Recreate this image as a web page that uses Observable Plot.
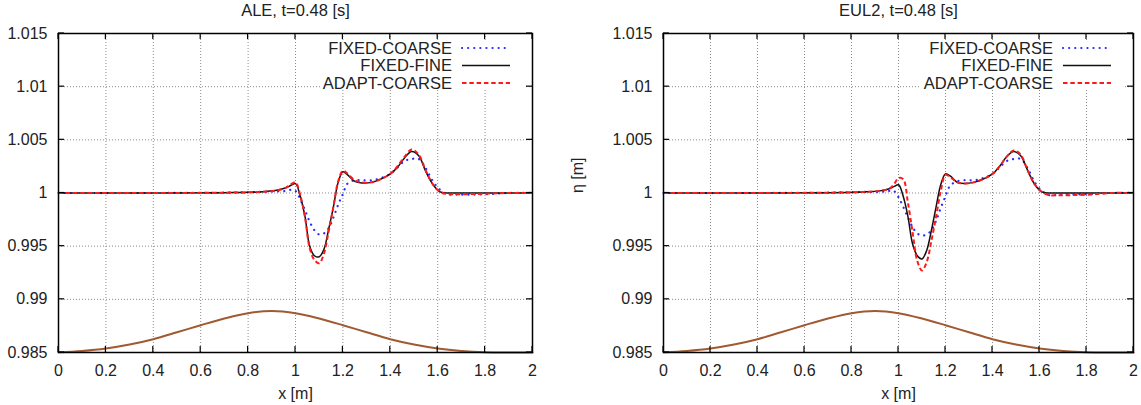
<!DOCTYPE html>
<html>
<head>
<meta charset="utf-8">
<script src="https://cdn.jsdelivr.net/npm/d3@7"></script>
<script src="https://cdn.jsdelivr.net/npm/@observablehq/plot@0.6"></script>
<style>
  body { margin: 0; background: #fff; }
  #row { display: flex; width: 1141px; height: 405px; overflow: hidden; }
  #row svg { flex: none; }
</style>
</head>
<body>
<div id="row"></div>
<script>
// Axis ticks and labels
const xTicks = [0, 0.2, 0.4, 0.6, 0.8, 1, 1.2, 1.4, 1.6, 1.8, 2];
const xTickLabels = ["0", "0.2", "0.4", "0.6", "0.8", "1", "1.2", "1.4", "1.6", "1.8", "2"];
const yTicks = [0.985, 0.99, 0.995, 1, 1.005, 1.01, 1.015];
const yTickLabels = ["0.985", "0.99", "0.995", "1", "1.005", "1.01", "1.015"];

const seriesNames = ["FIXED-COARSE", "FIXED-FINE", "ADAPT-COARSE"];
const panelTitles = ["ALE, t=0.48 [s]", "EUL2, t=0.48 [s]"];

// Bottom topography (bump)
const bedX = [0, 0.1, 0.2, 0.3, 0.4, 0.5, 0.6, 0.7, 0.8, 0.9, 1.0, 1.1, 1.2, 1.3, 1.4, 1.5, 1.6, 1.7, 1.8, 1.9, 2.0];
const bedY = [0.98502, 0.98515, 0.98538, 0.98575, 0.98625, 0.98690, 0.98757, 0.98820, 0.98870, 0.98890, 0.98870,
              0.98820, 0.98757, 0.98690, 0.98625, 0.98575, 0.98538, 0.98515, 0.98503, 0.98500, 0.98500];

// Sample positions shared by the free-surface series
const surfX = [0, 0.4, 0.7, 0.85, 0.92, 0.96, 0.98, 1.0, 1.02, 1.04, 1.06, 1.08, 1.10, 1.12, 1.14, 1.16, 1.18,
               1.20, 1.22, 1.25, 1.28, 1.32, 1.36, 1.40, 1.43, 1.46, 1.49, 1.52, 1.55, 1.58, 1.61, 1.64,
               1.68, 1.74, 1.82, 1.9, 2.0];

// ALE free surface
const aleFixedCoarse = [1, 1, 1.00003, 1.0001, 1.00015, 1.0002, 1.0003, 1.0002, 0.9994, 0.9984, 0.9973, 0.9965,
                        0.9961, 0.9962, 0.9967, 0.9977, 0.9989, 0.9999, 1.0009, 1.0012, 1.0012, 1.0012, 1.0014,
                        1.0018, 1.0024, 1.0030, 1.0032, 1.0032, 1.0023, 1.0011, 1.0003, 0.9999, 0.99985,
                        0.99985, 0.9999, 1, 1];
const aleFixedFine   = [1, 1, 1.00003, 1.0001, 1.00025, 1.0005, 1.0007, 1.00088, 0.9997, 0.9978, 0.9950, 0.9941,
                        0.9940, 0.9947, 0.9966, 0.9987, 1.0010, 1.0020, 1.0017, 1.0011, 1.00095, 1.0010, 1.0013,
                        1.0018, 1.0024, 1.0033, 1.0039, 1.0035, 1.0020, 1.0008, 1.0001, 1, 1,
                        1, 1, 1, 1];
const aleAdaptCoarse = [1, 1, 1.00003, 1.0001, 1.00025, 1.0005, 1.0008, 1.0010, 0.9998, 0.9977, 0.9948, 0.9937,
                        0.9934, 0.9943, 0.9964, 0.9987, 1.0011, 1.0021, 1.0018, 1.0012, 1.0010, 1.0010, 1.0013,
                        1.0018, 1.0025, 1.0034, 1.0041, 1.0036, 1.0021, 1.0008, 1.0001, 0.9999, 0.99988,
                        0.9999, 0.99995, 1, 1];

// EUL2 free surface
const eulFixedCoarse = [1, 1, 1.00003, 1.0001, 1.0001, 1.0002, 1.0002, 0.9996, 0.9987, 0.9977, 0.9968, 0.9962,
                        0.9960, 0.9961, 0.9965, 0.9974, 0.9986, 0.9997, 1.0007, 1.0011, 1.0012, 1.0012, 1.0014,
                        1.0018, 1.0024, 1.0030, 1.0032, 1.0032, 1.0023, 1.0010, 1.0002, 0.9998, 0.99982,
                        0.99985, 0.9999, 1, 1];
const eulFixedFine   = [1, 1, 1.00003, 1.0001, 1.0002, 1.0004, 1.0006, 1.00077, 0.9997, 0.9978, 0.9952, 0.9941,
                        0.9938, 0.9946, 0.9965, 0.9987, 1.0008, 1.0018, 1.0016, 1.0010, 1.0009, 1.0010, 1.0013,
                        1.0018, 1.0025, 1.0034, 1.0039, 1.0035, 1.0021, 1.0008, 1.0001, 1, 1,
                        1, 1, 1, 1];
const eulAdaptCoarse = [1, 1, 1.00003, 1.0001, 1.0002, 1.0004, 1.0008, 1.0014, 1.0013, 0.9991, 0.9963, 0.9936,
                        0.9927, 0.9935, 0.9955, 0.9978, 1.0002, 1.0017, 1.0015, 1.0010, 1.0009, 1.0010, 1.0013,
                        1.0018, 1.0025, 1.0034, 1.0040, 1.0036, 1.0021, 1.0008, 1.0001, 0.9998, 0.9998,
                        0.9998, 0.99985, 1, 1];

const font = "'Liberation Sans', Arial, Helvetica, sans-serif";
const seriesStyles = [
  {stroke: "#2a2aff", strokeWidth: 2.2, strokeDasharray: "0.1,6", strokeLinecap: "round"},
  {stroke: "#111111", strokeWidth: 1.5, strokeDasharray: null, strokeLinecap: "butt"},
  {stroke: "#ff1a1a", strokeWidth: 2, strokeDasharray: "4.5,2.8", strokeLinecap: "butt"}
];
const bedColor = "#a05a32";

const toRows = (xs, ys) => xs.map((x, i) => ({x, y: ys[i]}));

function panel({title, series, width, marginLeft, marginRight, yLabel}) {
  const marks = [
    Plot.gridX(xTicks, {stroke: "#8a8a8a", strokeOpacity: 1, strokeDasharray: "1,2", strokeWidth: 1}),
    Plot.gridY(yTicks, {stroke: "#8a8a8a", strokeOpacity: 1, strokeDasharray: "1,2", strokeWidth: 1}),
    Plot.axisX(xTicks, {tickSize: 0, tickPadding: 12, fontSize: 16, label: null,
      tickFormat: d => xTickLabels[xTicks.indexOf(d)]}),
    Plot.axisY(yTicks, {tickSize: 0, tickPadding: 11, fontSize: 16, label: null,
      tickFormat: d => yTickLabels[yTicks.indexOf(d)]}),
    Plot.line(toRows(bedX, bedY), {x: "x", y: "y", stroke: bedColor, strokeWidth: 2, curve: "catmull-rom"}),
    ...series.map((ys, i) => Plot.line(toRows(surfX, ys), {
      x: "x", y: "y", curve: "catmull-rom", ...seriesStyles[i]
    })),
    Plot.frame({stroke: "#000", strokeWidth: 1.5}),
    Plot.text([title], {text: d => d, frameAnchor: "top", dy: -23, lineAnchor: "middle", fontSize: 16.5}),
    Plot.text(["x [m]"], {text: d => d, frameAnchor: "bottom", dy: 41, lineAnchor: "middle", fontSize: 16})
  ];
  if (yLabel) {
    marks.push(Plot.text([yLabel], {text: d => d, frameAnchor: "left", rotate: -90, dx: -86,
      lineAnchor: "middle", fontSize: 16}));
  }
  const svg = Plot.plot({
    width, height: 405, marginLeft, marginRight, marginTop: 33, marginBottom: 53,
    x: {domain: [0, 2]},
    y: {domain: [0.985, 1.015]},
    style: {fontFamily: font, fontSize: "16px", color: "#222", background: "#fff", overflow: "visible"},
    marks
  });
  decorate(svg);
  return svg;
}

// Inward tick marks on all four sides and the key in the upper-right corner
function decorate(svg) {
  const sx = svg.scale("x"), sy = svg.scale("y");
  const X = v => sx.apply(v), Y = v => sy.apply(v);
  const left = X(0), right = X(2), top = Y(1.015), bottom = Y(0.985);
  const g = d3.select(svg).append("g").attr("stroke", "#000").attr("stroke-width", 1.2);
  const len = 6;
  for (const t of xTicks) {
    g.append("line").attr("x1", X(t)).attr("x2", X(t)).attr("y1", bottom).attr("y2", bottom - len);
    g.append("line").attr("x1", X(t)).attr("x2", X(t)).attr("y1", top).attr("y2", top + len);
  }
  for (const t of yTicks) {
    g.append("line").attr("y1", Y(t)).attr("y2", Y(t)).attr("x1", left).attr("x2", left + len);
    g.append("line").attr("y1", Y(t)).attr("y2", Y(t)).attr("x1", right).attr("x2", right - len);
  }
  const key = d3.select(svg).append("g");
  key.append("rect").attr("x", right - 212).attr("y", top + 7).attr("width", 204).attr("height", 50)
    .attr("fill", "#fff");
  seriesNames.forEach((name, i) => {
    const yy = top + 15 + i * 17.5;
    key.append("text").attr("x", right - 80).attr("y", yy).attr("dy", "0.35em")
      .attr("text-anchor", "end").attr("fill", "#222").attr("font-size", 16.5).attr("font-family", font)
      .text(name);
    const s = seriesStyles[i];
    key.append("line").attr("x1", right - 70).attr("x2", right - 22).attr("y1", yy).attr("y2", yy)
      .attr("stroke", s.stroke).attr("stroke-width", s.strokeWidth)
      .attr("stroke-dasharray", s.strokeDasharray).attr("stroke-linecap", s.strokeLinecap);
  });
}

const row = document.getElementById("row");
row.append(panel({
  title: panelTitles[0], series: [aleFixedCoarse, aleFixedFine, aleAdaptCoarse],
  width: 560, marginLeft: 58, marginRight: 28
}));
row.append(panel({
  title: panelTitles[1], series: [eulFixedCoarse, eulFixedFine, eulAdaptCoarse],
  width: 581, marginLeft: 103, marginRight: 8, yLabel: "η [m]"
}));
</script>
</body>
</html>
